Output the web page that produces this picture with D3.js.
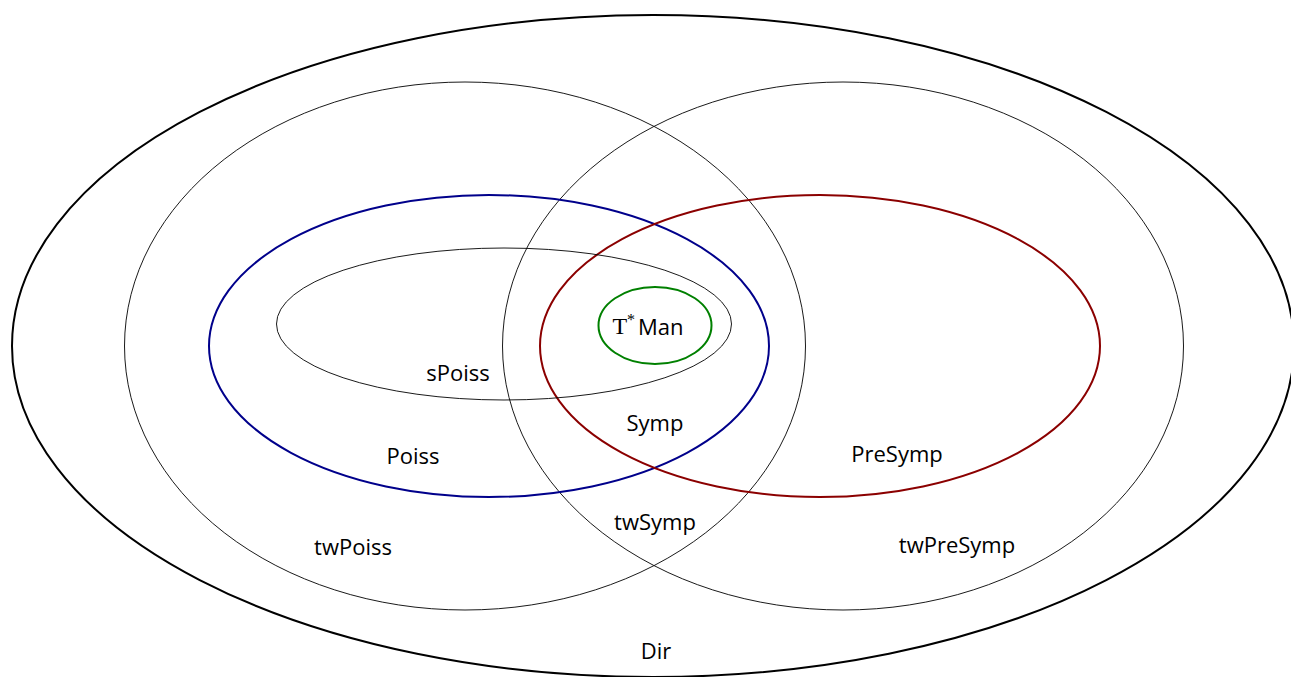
<!DOCTYPE html>
<html>
<head>
<meta charset="utf-8">
<script src="https://cdn.jsdelivr.net/npm/d3@7"></script>
<style>
  body { margin: 0; background: #fff; }
  text { font-family: "Open Sans", "DejaVu Sans", sans-serif; font-size: 22px; fill: #000; }
</style>
</head>
<body>
<div id="chart"></div>
<script>
var width = 1291;
var height = 677;

// sets: name, centre and radii in diagram units
var setNames = ["Dir", "twPoiss", "twPreSymp", "Poiss", "PreSymp", "sPoiss", "TMan"];
var setCx = [0, -1.88, 1.9, -1.64, 1.67, -1.49, 0.02];
var setCy = [0, 0, 0, 0, 0, 0.22, 0.205];
var setRx = [6.41, 3.405, 3.405, 2.8, 2.8, 2.275, 0.565];
var setRy = [3.31, 2.64, 2.64, 1.51, 1.51, 0.76, 0.385];
var setColor = ["#000", "#000", "#000", "#00008b", "#8b0000", "#000", "#008000"];
var setWidth = [2, 0.9, 0.9, 2, 2, 0.9, 2];

// region labels
var labelText = ["sPoiss", "Symp", "Poiss", "PreSymp", "twSymp", "twPoiss", "twPreSymp", "Dir"];
var labelX = [-1.95, 0.02, -2.4, 2.44, 0.02, -3.0, 3.04, 0.03];
var labelY = [-0.26, -0.76, -1.09, -1.07, -1.75, -2.0, -1.98, -3.04];

var x = d3.scaleLinear().domain([-6.41, 6.41]).range([12, 1294]);
var y = d3.scaleLinear().domain([-3.31, 3.31]).range([677, 15]);
var sx = function (r) { return x(r) - x(0); };
var sy = function (r) { return y(0) - y(r); };

var svg = d3.select("#chart")
    .append("svg")
    .attr("width", width)
    .attr("height", height);

svg.append("g")
    .selectAll("ellipse")
    .data(setNames)
    .join("ellipse")
    .attr("cx", (d, i) => x(setCx[i]))
    .attr("cy", (d, i) => y(setCy[i]))
    .attr("rx", (d, i) => sx(setRx[i]))
    .attr("ry", (d, i) => sy(setRy[i]))
    .attr("fill", "none")
    .attr("stroke", (d, i) => setColor[i])
    .attr("stroke-width", (d, i) => setWidth[i]);

svg.append("g")
    .selectAll("text")
    .data(labelText)
    .join("text")
    .attr("x", (d, i) => x(labelX[i]))
    .attr("y", (d, i) => y(labelY[i]))
    .attr("text-anchor", "middle")
    .attr("dominant-baseline", "central")
    .text(d => d);

// T*Man label: serif T with superscript star
var tm = svg.append("text")
    .attr("x", x(setCx[6]) - 7)
    .attr("y", y(setCy[6]))
    .attr("text-anchor", "middle")
    .attr("dominant-baseline", "central");
tm.append("tspan")
    .style("font-family", "'Liberation Serif', 'DejaVu Serif', serif")
    .style("font-size", "24px")
    .text("T");
tm.append("tspan")
    .attr("dy", -7)
    .style("font-family", "'Liberation Serif', 'DejaVu Serif', serif")
    .style("font-size", "16px")
    .text("*");
tm.append("tspan")
    .attr("dy", 7)
    .attr("dx", 3)
    .text("Man");
</script>
</body>
</html>
